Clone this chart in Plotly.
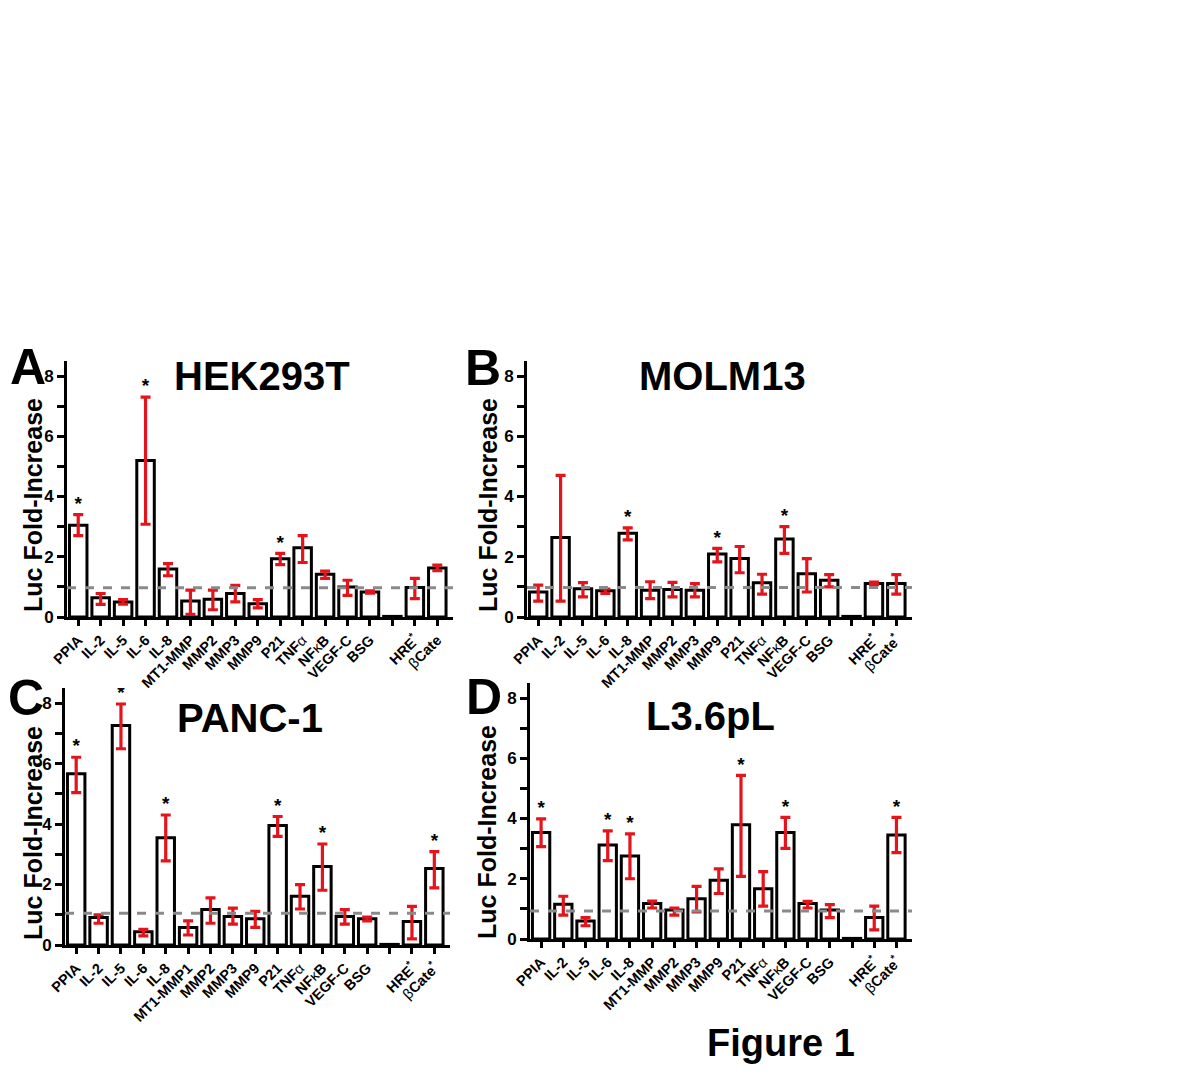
import numpy as np
import plotly.graph_objects as go

# ---------------- data ----------------
labels_A = ["PPIA", "IL-2", "IL-5", "IL-6", "IL-8", "MT1-MMP", "MMP2", "MMP3", "MMP9",
            "P21", "TNFα", "NFκB", "VEGF-C", "BSG", "", "HRE*", "βCate"]
labels_B = ["PPIA", "IL-2", "IL-5", "IL-6", "IL-8", "MT1-MMP", "MMP2", "MMP3", "MMP9",
            "P21", "TNFα", "NFκB", "VEGF-C", "BSG", "", "HRE*", "βCate*"]
labels_C = ["PPIA", "IL-2", "IL-5", "IL-6", "IL-8", "MT1-MMP1", "MMP2", "MMP3", "MMP9",
            "P21", "TNFα", "NFκB", "VEGF-C", "BSG", "", "HRE*", "βCate*"]
labels_D = labels_B

A_mean = [3.05, 0.64, 0.50, 5.20, 1.59, 0.53, 0.59, 0.78, 0.44, 1.93, 2.30, 1.42, 1.00, 0.83, 0.02, 0.98, 1.63]
A_hi   = [3.40, 0.78, 0.58, 7.30, 1.77, 0.89, 0.89, 1.05, 0.58, 2.11, 2.70, 1.52, 1.22, 0.87, None, 1.28, 1.72]
A_lo   = [2.70, 0.42, 0.43, 3.08, 1.37, 0.09, 0.24, 0.50, 0.30, 1.74, 1.81, 1.28, 0.72, 0.79, None, 0.61, 1.54]
A_star = [0, 3, 9]

B_mean = [0.83, 2.64, 0.94, 0.87, 2.78, 0.89, 0.91, 0.89, 2.09, 1.94, 1.14, 2.59, 1.44, 1.22, 0.02, 1.11, 1.11]
B_hi   = [1.06, 4.70, 1.14, 0.93, 2.96, 1.17, 1.15, 1.11, 2.28, 2.34, 1.42, 3.00, 1.94, 1.41, None, 1.16, 1.41]
B_lo   = [0.53, 0.53, 0.67, 0.78, 2.56, 0.61, 0.67, 0.67, 1.83, 1.47, 0.76, 2.11, 0.83, 1.00, None, 1.07, 0.76]
B_star = [4, 8, 11]

C_mean = [5.66, 0.91, 7.26, 0.44, 3.55, 0.58, 1.17, 0.94, 0.87, 3.95, 1.61, 2.60, 0.94, 0.87, 0.02, 0.78, 2.53]
C_hi   = [6.21, 1.00, 7.97, 0.52, 4.30, 0.80, 1.56, 1.22, 1.11, 4.25, 2.00, 3.34, 1.17, 0.92, None, 1.28, 3.09]
C_lo   = [5.04, 0.72, 6.49, 0.30, 2.78, 0.33, 0.72, 0.69, 0.58, 3.59, 1.19, 1.81, 0.69, 0.80, None, 0.20, 1.89]
C_star = [0, 2, 4, 9, 11, 16]

D_mean = [3.54, 1.15, 0.60, 3.12, 2.76, 1.18, 0.96, 1.34, 1.95, 3.79, 1.67, 3.54, 1.18, 0.96, 0.02, 0.71, 3.45]
D_hi   = [3.99, 1.42, 0.71, 3.59, 3.49, 1.26, 1.03, 1.75, 2.33, 5.43, 2.24, 4.04, 1.25, 1.14, None, 1.09, 4.04]
D_lo   = [3.07, 0.79, 0.44, 2.60, 2.00, 1.03, 0.79, 0.90, 1.51, 2.08, 1.09, 3.01, 1.03, 0.71, None, 0.30, 2.87]
D_star = [0, 3, 4, 9, 11, 16]

baseline = {"A": 0.97, "B": 0.98, "C": 1.05, "D": 0.93}
titles = {"A": "HEK293T", "B": "MOLM13", "C": "PANC-1", "D": "L3.6pL"}
y_ticks = [0, 1, 2, 3, 4, 5, 6, 7, 8]
y_ticktext = ["0", "", "2", "", "4", "", "6", "", "8"]

# ---------------- layout geometry (pixels in the target picture) ----------------
W, H = 1200, 1091
OFF = 8  # page body margin
FONT = "Liberation Sans, Arial, sans-serif"
RED = "#e3141b"

panels = {
    "A": (67, 453, 617, 361, labels_A, A_mean, A_hi, A_lo, A_star),
    "B": (527, 912, 617, 361, labels_B, B_mean, B_hi, B_lo, B_star),
    "C": (65, 450, 945, 688, labels_C, C_mean, C_hi, C_lo, C_star),
    "D": (530, 912, 939, 683, labels_D, D_mean, D_hi, D_lo, D_star),
}
letter_pos = {"A": (28, 367), "B": (483, 368), "C": (26, 698), "D": (484, 697)}
title_pos = {"A": (262, 376), "B": (722, 376), "C": (250, 718), "D": (710, 716)}
ytitle_pos = {"A": (33, 505), "B": (488, 505), "C": (33, 833), "D": (487, 832)}


def fmt_label(s):
    out = ""
    for ch in s:
        if ch in "αβκ":
            out += "<span style='font-weight:normal'>" + ch + "</span>"
        elif ch == "*":
            out += "<sup>*</sup>"
        else:
            out += ch
    return out


def px_x(p):
    return (p - OFF) / W


def px_y(p):
    return 1 - (p - OFF) / H


fig = go.Figure()
layout = {}
annotations = []
shapes = []

for i, (key, (xl, xr, y0, yt, labels, mean, hi, lo, stars)) in enumerate(panels.items()):
    n = "" if i == 0 else str(i + 1)
    xa, ya = "x" + n, "y" + n
    mean_a = np.array(mean, dtype=float)
    hi_a = np.array([np.nan if v is None else v for v in hi], dtype=float)
    lo_a = np.array([np.nan if v is None else v for v in lo], dtype=float)
    xs = list(range(len(labels)))

    fig.add_trace(go.Bar(
        x=xs, y=mean_a, width=0.78, xaxis=xa, yaxis=ya,
        marker=dict(color="white", line=dict(color="black", width=3)),
        error_y=dict(type="data", symmetric=False, array=hi_a - mean_a,
                     arrayminus=mean_a - lo_a, color=RED, thickness=3.2, width=5),
        showlegend=False, hoverinfo="skip",
    ))
    fig.add_trace(go.Scatter(
        x=[xs[k] for k in stars], y=[hi_a[k] for k in stars], xaxis=xa, yaxis=ya,
        mode="text", text=["*"] * len(stars), textposition="top center",
        textfont=dict(family=FONT, size=19, color="black", weight="bold"),
        showlegend=False, hoverinfo="skip",
    ))

    layout["xaxis" + n] = dict(
        domain=[px_x(xl), px_x(xr)], anchor=ya, range=[-0.5, 16.7], automargin=False,
        tickvals=xs, ticktext=[fmt_label(s) for s in labels], tickangle=-45,
        ticks="outside", ticklen=6, tickwidth=2.5, tickcolor="black",
        showline=True, linewidth=3, linecolor="black", showgrid=False, zeroline=False,
        tickfont=dict(family=FONT, size=14.5, color="black", weight="bold"),
    )
    layout["yaxis" + n] = dict(
        domain=[px_y(y0), px_y(yt)], anchor=xa, range=[0, 8.5], automargin=False,
        tickvals=y_ticks, ticktext=y_ticktext,
        ticks="outside", ticklen=7, tickwidth=2.5, tickcolor="black",
        showline=True, linewidth=3, linecolor="black", showgrid=False, zeroline=False,
        tickfont=dict(family=FONT, size=17, color="black", weight="bold"),
    )
    shapes.append(dict(type="line", xref=xa + " domain", yref=ya, x0=0, x1=1,
                       y0=baseline[key], y1=baseline[key],
                       line=dict(color="#8a8a8a", width=3, dash="dash"), layer="above"))

    lx, ly = letter_pos[key]
    annotations.append(dict(text=key, x=px_x(lx), y=px_y(ly), xref="paper", yref="paper",
                            showarrow=False, xanchor="center", yanchor="middle",
                            font=dict(family=FONT, size=50, color="black", weight="bold")))
    tx, ty = title_pos[key]
    annotations.append(dict(text=titles[key], x=px_x(tx), y=px_y(ty), xref="paper", yref="paper",
                            showarrow=False, xanchor="center", yanchor="middle",
                            font=dict(family=FONT, size=40, color="black", weight="bold")))
    yx, yy = ytitle_pos[key]
    annotations.append(dict(text="Luc Fold-Increase", x=px_x(yx), y=px_y(yy), xref="paper",
                            yref="paper", showarrow=False, textangle=-90,
                            xanchor="center", yanchor="middle",
                            font=dict(family=FONT, size=25, color="black", weight="bold")))

annotations.append(dict(text="Figure 1", x=px_x(781), y=px_y(1043), xref="paper", yref="paper",
                        showarrow=False, xanchor="center", yanchor="middle",
                        font=dict(family=FONT, size=38, color="black", weight="bold")))
shapes.append(dict(type="rect", xref="paper", yref="paper", x0=px_x(1186), x1=px_x(1200),
                   y0=px_y(2), y1=1, fillcolor="black", line=dict(width=0)))

fig.update_layout(
    width=W, height=H, margin=dict(l=0, r=0, t=0, b=0),
    plot_bgcolor="white", paper_bgcolor="white",
    annotations=annotations, shapes=shapes, bargap=0.2, **layout,
)

fig.write_html("out.html")
